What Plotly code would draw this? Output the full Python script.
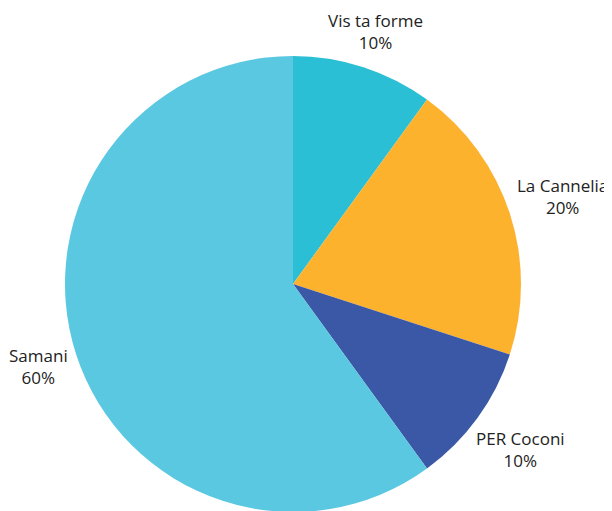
import math
import plotly.graph_objects as go

labels = ["Vis ta forme", "La Cannelia", "PER Coconi", "Samani"]
values = [10, 20, 10, 60]
colors = ["#2BBFD5", "#FDB22E", "#3A58A6", "#5BC8E2"]

W, H = 612, 511
OFF = 8  # default body margin of the html page
CX, CY, R = 293 - OFF, 284 - OFF, 228  # pie geometry in figure pixels

fig = go.Figure(go.Pie(
    labels=labels,
    values=values,
    sort=False,
    direction="clockwise",
    rotation=0,
    marker=dict(colors=colors, line=dict(width=0)),
    textinfo="none",
    showlegend=False,
    hoverinfo="label+percent",
    domain=dict(x=[(CX - R) / W, (CX + R) / W],
                y=[1 - (CY + R) / H, 1 - (CY - R) / H]),
))

# outside labels placed along each slice's mid-angle
total = sum(values)
cum = 0
FS = 17
TEXT_W = [95, 91, 90, 58]   # approximate rendered label widths (px)
BOX_H = 34
GAP = 7
for lab, v, w in zip(labels, values, TEXT_W):
    mid = (cum + v / 2) / total * 2 * math.pi
    cum += v
    pct = f"{round(v / total * 100)}%"
    s, c = math.sin(mid), math.cos(mid)
    d = R + GAP + abs(s) * w / 2 + abs(c) * BOX_H / 2
    px = CX + d * s
    py = CY - d * c
    fig.add_annotation(
        x=px / W, y=1 - py / H, xref="paper", yref="paper",
        text=f"{lab}<br>{pct}", showarrow=False,
        xanchor="center", yanchor="middle", align="center",
        font=dict(family="Open Sans", size=FS, color="#222222"),
    )

fig.update_layout(
    width=W, height=H,
    margin=dict(l=0, r=0, t=0, b=0),
    paper_bgcolor="white",
    plot_bgcolor="white",
)

fig.write_html("out.html")
